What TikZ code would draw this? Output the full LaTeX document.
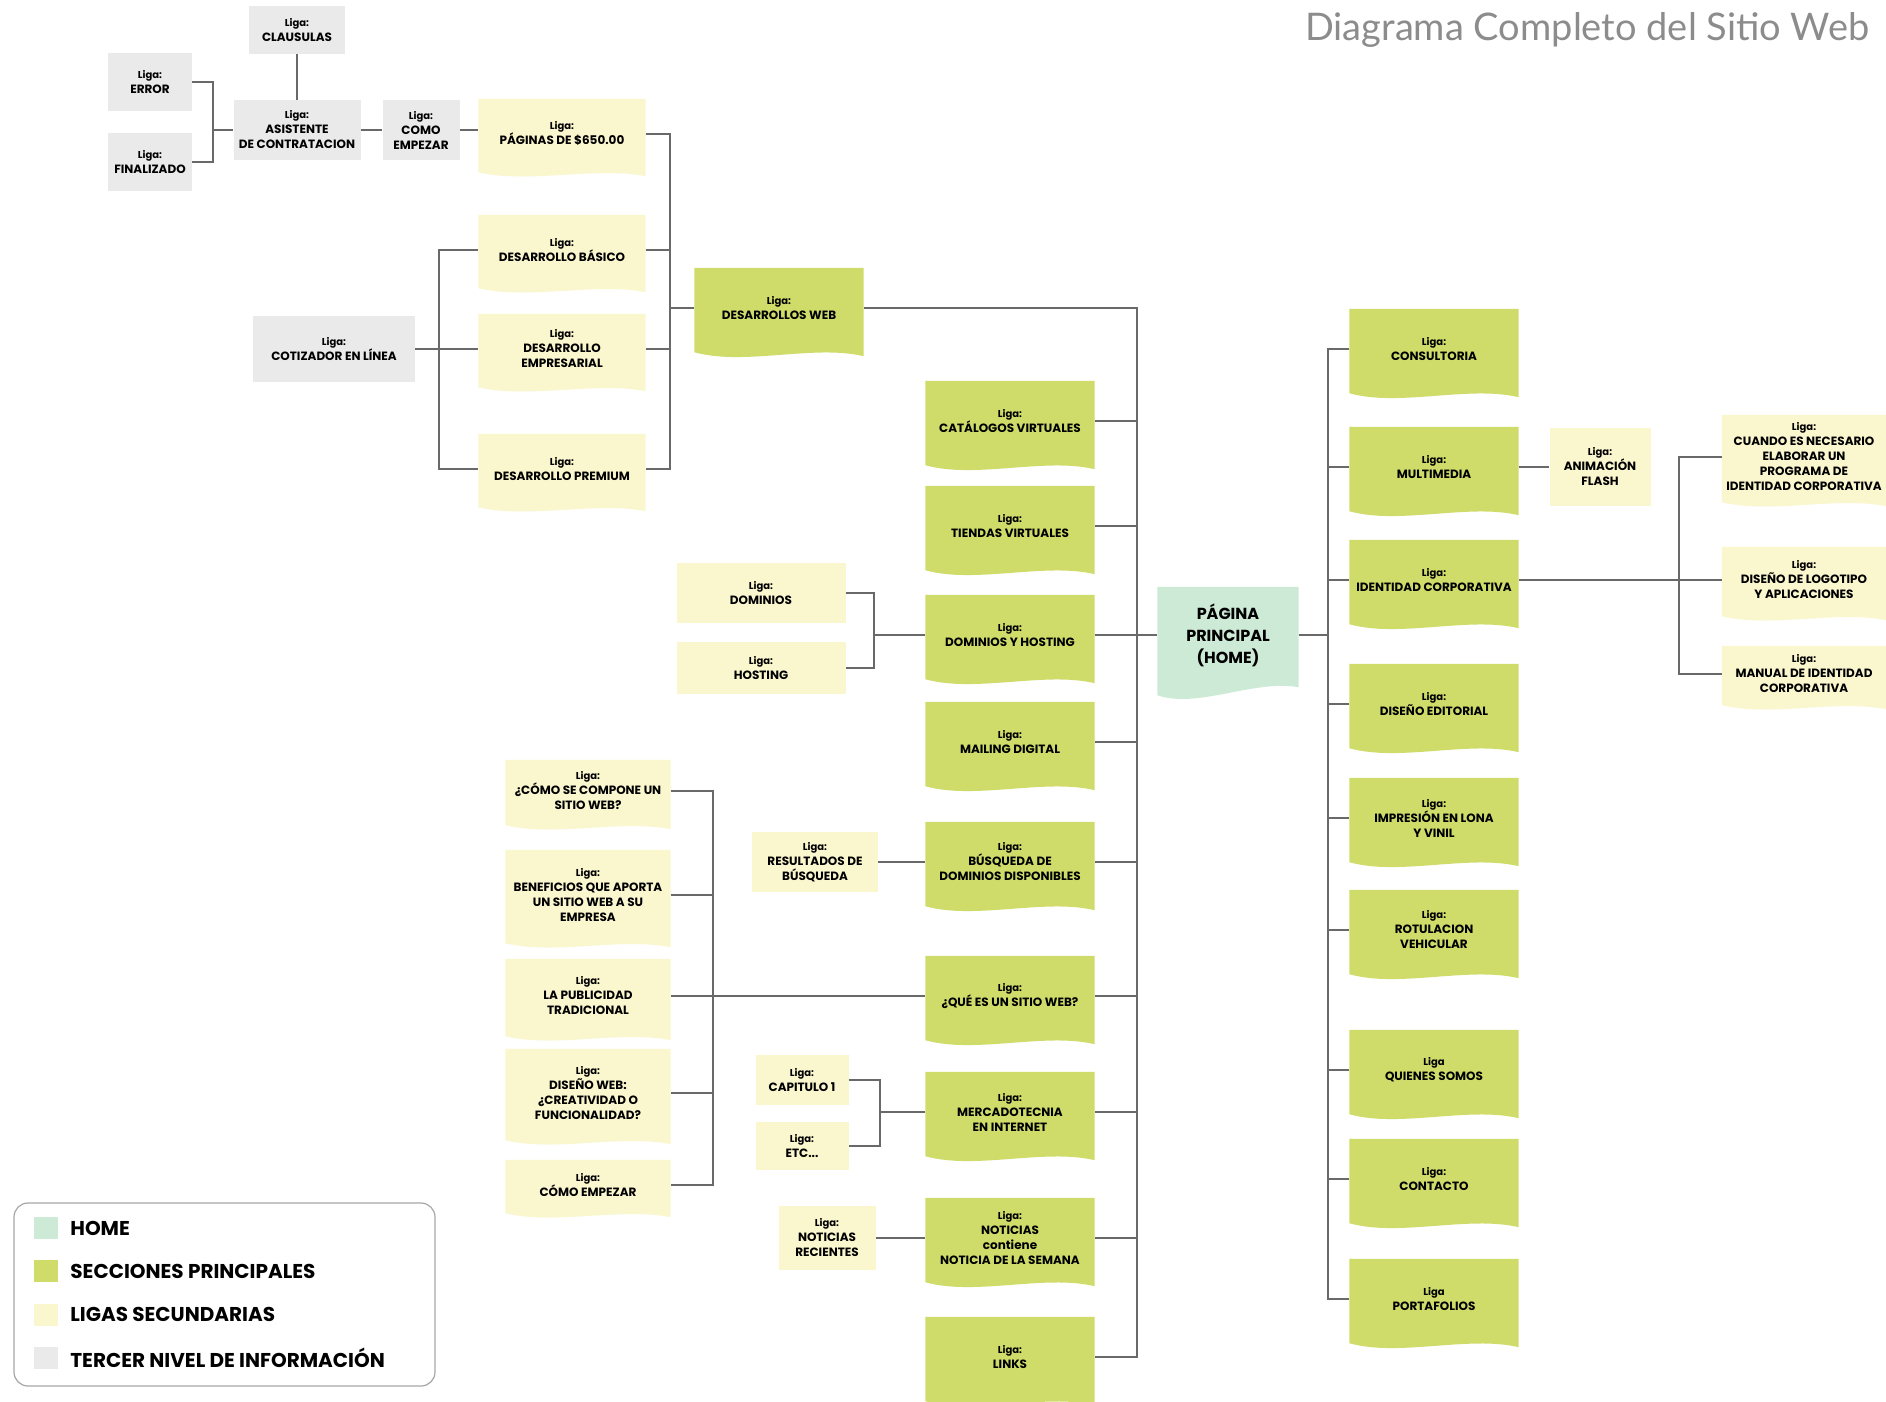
\documentclass[tikz,border=0pt]{standalone}
\usepackage{fontspec}
\setmainfont{Poppins}
\newfontfamily\titlefont{Lato}
\usetikzlibrary{positioning,backgrounds}

\definecolor{verde}{RGB}{207,220,106}
\definecolor{crema}{RGB}{250,246,206}
\definecolor{gris}{RGB}{234,234,234}
\definecolor{menta}{RGB}{204,234,214}
\definecolor{linea}{RGB}{105,105,105}
\definecolor{titulo}{RGB}{140,140,140}

\newcommand\ligatag[1][:]{{\fontsize{10}{13}\selectfont Liga#1}}
\newcommand\cajafont{\fontsize{12}{15}\selectfont\bfseries}

\begin{document}
\begin{tikzpicture}[x=1pt, y=-1pt,
    caja/.style = {align=center, font=\cajafont, inner sep=2pt},
    principal/.style = {caja, minimum width=169pt, minimum height=80pt},
    liga/.style = {caja, minimum width=167pt, minimum height=70pt},
    ligabox/.style = {caja, fill=crema},
    nivel/.style = {caja, fill=gris},
    con/.style = {draw=linea, line width=1.4pt},
    muestra/.style = {minimum width=24pt, minimum height=22pt, inner sep=0pt},
    leyenda/.style = {font=\fontsize{20}{22}\selectfont\bfseries, inner sep=0pt, anchor=west}]

    \useasboundingbox (0,0) rectangle (1886,1401);

    \node[anchor=west, inner sep=0pt, text=titulo, font=\titlefont\fontsize{38}{44}\selectfont] (titulo) at (1305,30) {Diagrama Completo del Sitio Web};

    % tercer nivel
    \node[nivel, minimum width=96pt, minimum height=48pt] (clausulas) at (297,30) {\ligatag\\CLAUSULAS};
    \node[nivel, minimum width=84pt, minimum height=58pt] (error) at (150,82) {\ligatag\\ERROR};
    \node[nivel, minimum width=84pt, minimum height=58pt] (finalizado) at (150,162) {\ligatag\\FINALIZADO};
    \node[nivel, minimum width=127pt, minimum height=60pt] (asistente) at (297,130) {\ligatag\\ASISTENTE\\DE CONTRATACION};
    \node[nivel, minimum width=77pt, minimum height=60pt] (comoemp) at (421,130) {\ligatag\\COMO\\EMPEZAR};
    \node[nivel, minimum width=162pt, minimum height=66pt] (cotizador) at (334,349) {\ligatag\\COTIZADOR EN LÍNEA};

    % ligas secundarias
    \node[liga] (paginas) at (562,134) {\ligatag\\PÁGINAS DE \$650.00};
    \node[liga] (basico) at (562,250) {\ligatag\\DESARROLLO BÁSICO};
    \node[liga] (empresarial) at (562,349) {\ligatag\\DESARROLLO\\EMPRESARIAL};
    \node[liga] (premium) at (562,469) {\ligatag\\DESARROLLO PREMIUM};

    \node[liga, minimum width=165pt, minimum height=62pt] (compone) at (588,791) {\ligatag\\¿CÓMO SE COMPONE UN\\SITIO WEB?};
    \node[liga, minimum width=165pt, minimum height=90pt] (beneficios) at (588,895) {\ligatag\\BENEFICIOS QUE APORTA\\UN SITIO WEB A SU\\EMPRESA};
    \node[liga, minimum width=165pt, minimum height=74pt] (publicidad) at (588,996) {\ligatag\\LA PUBLICIDAD\\TRADICIONAL};
    \node[liga, minimum width=165pt, minimum height=88pt] (disenoweb) at (588,1093) {\ligatag\\DISEÑO WEB:\\¿CREATIVIDAD O\\FUNCIONALIDAD?};
    \node[liga, minimum width=165pt, minimum height=50pt] (empezar) at (588,1185) {\ligatag\\CÓMO EMPEZAR};

    \node[liga, minimum width=164pt, minimum height=84pt] (cuando) at (1804,457) {\ligatag\\CUANDO ES NECESARIO\\ELABORAR UN\\PROGRAMA DE\\IDENTIDAD CORPORATIVA};
    \node[liga, minimum width=164pt, minimum height=66pt] (logotipo) at (1804,580) {\ligatag\\DISEÑO DE LOGOTIPO\\Y APLICACIONES};
    \node[liga, minimum width=164pt, minimum height=56pt] (manual) at (1804,674) {\ligatag\\MANUAL DE IDENTIDAD\\CORPORATIVA};

    \node[ligabox, minimum width=101pt, minimum height=78pt] (flash) at (1600,467) {\ligatag\\ANIMACIÓN\\FLASH};
    \node[ligabox, minimum width=169pt, minimum height=60pt] (dominios) at (761,593) {\ligatag\\DOMINIOS};
    \node[ligabox, minimum width=169pt, minimum height=52pt] (hosting) at (761,668) {\ligatag\\HOSTING};
    \node[ligabox, minimum width=126pt, minimum height=60pt] (resultados) at (815,862) {\ligatag\\RESULTADOS DE\\BÚSQUEDA};
    \node[ligabox, minimum width=93pt, minimum height=50pt] (capitulo) at (802,1080) {\ligatag\\CAPITULO 1};
    \node[ligabox, minimum width=93pt, minimum height=48pt] (etc) at (802,1146) {\ligatag\\ETC...};
    \node[ligabox, minimum width=97pt, minimum height=64pt] (recientes) at (827,1238) {\ligatag\\NOTICIAS\\RECIENTES};

    % secciones principales
    \node[principal] (dweb) at (779,308) {\ligatag\\DESARROLLOS WEB};
    \node[principal] (catalogos) at (1010,421) {\ligatag\\CATÁLOGOS VIRTUALES};
    \node[principal] (tiendas) at (1010,526) {\ligatag\\TIENDAS VIRTUALES};
    \node[principal] (dyh) at (1010,635) {\ligatag\\DOMINIOS Y HOSTING};
    \node[principal] (mailing) at (1010,742) {\ligatag\\MAILING DIGITAL};
    \node[principal] (busqueda) at (1010,862) {\ligatag\\BÚSQUEDA DE\\DOMINIOS DISPONIBLES};
    \node[principal] (quees) at (1010,996) {\ligatag\\¿QUÉ ES UN SITIO WEB?};
    \node[principal] (mercado) at (1010,1112) {\ligatag\\MERCADOTECNIA\\EN INTERNET};
    \node[principal] (noticias) at (1010,1238) {\ligatag\\NOTICIAS\\contiene\\NOTICIA DE LA SEMANA};
    \node[principal] (links) at (1010,1357) {\ligatag\\LINKS};

    \node[principal] (consultoria) at (1434,349) {\ligatag\\CONSULTORIA};
    \node[principal] (multimedia) at (1434,467) {\ligatag\\MULTIMEDIA};
    \node[principal] (identidad) at (1434,580) {\ligatag\\IDENTIDAD CORPORATIVA};
    \node[principal] (editorial) at (1434,704) {\ligatag\\DISEÑO EDITORIAL};
    \node[principal] (impresion) at (1434,818) {\ligatag\\IMPRESIÓN EN LONA\\Y VINIL};
    \node[principal] (rotulacion) at (1434,930) {\ligatag\\ROTULACION\\VEHICULAR};
    \node[principal] (quienes) at (1434,1070) {\ligatag[]\\QUIENES SOMOS};
    \node[principal] (contacto) at (1434,1179) {\ligatag\\CONTACTO};
    \node[principal] (portafolios) at (1434,1299) {\ligatag[]\\PORTAFOLIOS};

    \node[caja, minimum width=141pt, minimum height=96pt, font=\fontsize{16}{22}\selectfont\bfseries] (home) at (1228,635) {PÁGINA\\PRINCIPAL\\(HOME)};

    % fondos con onda
    \begin{scope}[on background layer]
        \fill[white] (0,0) rectangle (1886,1401);
        \foreach \n in {dweb,catalogos,tiendas,dyh,mailing,busqueda,quees,mercado,noticias,links,
                        consultoria,multimedia,identidad,editorial,impresion,rotulacion,quienes,contacto,portafolios}
            \fill[verde] (\n.north west) -- (\n.north east) -- ([yshift=-8pt]\n.south east)
                .. controls +(-50pt,12pt) and +(50pt,-14pt) .. ([yshift=-4pt]\n.south west) -- cycle;
        \foreach \n in {paginas,basico,empresarial,premium,compone,beneficios,publicidad,disenoweb,empezar,
                        cuando,logotipo,manual}
            \fill[crema] (\n.north west) -- (\n.north east) -- ([yshift=-7pt]\n.south east)
                .. controls +(-50pt,10pt) and +(50pt,-12pt) .. ([yshift=-3pt]\n.south west) -- cycle;
        \fill[menta] (home.north west) -- (home.north east) -- ([yshift=-4pt]home.south east)
            .. controls +(-45pt,8pt) and +(40pt,-14pt) .. ([yshift=-12pt]home.south west) -- cycle;
    \end{scope}

    % conexiones
    \coordinate (bfin) at (213,130);
    \coordinate (bcot) at (439,0);
    \coordinate (bdes) at (670,0);
    \coordinate (bizq) at (713,0);
    \coordinate (bdom) at (874,0);
    \coordinate (bcap) at (880,0);
    \coordinate (bmed) at (1137,0);
    \coordinate (bder) at (1328,0);
    \coordinate (bidn) at (1679,0);

    \draw[con] (clausulas) -- (asistente);
    \draw[con] (error.east) -| (bfin) |- (finalizado.east);
    \draw[con] (bfin) -- (asistente.west);
    \draw[con] (asistente) -- (comoemp);
    \draw[con] (comoemp.east) -- (comoemp.east -| paginas.west);

    \draw[con] (paginas.east) -| (bdes |- premium.east) -- (premium.east);
    \draw[con] (basico.east) -- (basico.east -| bdes);
    \draw[con] (empresarial.east) -- (empresarial.east -| bdes);
    \draw[con] (dweb.west) -- (dweb.west -| bdes);

    \draw[con] (basico.west) -| (bcot |- premium.west) -- (premium.west);
    \draw[con] (cotizador.east) -- (empresarial.west);

    \draw[con] (dweb.east) -| (bmed |- links.east) -- (links.east);
    \foreach \n in {catalogos,tiendas,dyh,mailing,busqueda,quees,mercado,noticias}
        \draw[con] (\n.east) -- (\n.east -| bmed);
    \draw[con] (home.west) -- (home.west -| bmed);

    \draw[con] (consultoria.west) -| (bder |- portafolios.west) -- (portafolios.west);
    \foreach \n in {multimedia,identidad,editorial,impresion,rotulacion,quienes,contacto}
        \draw[con] (\n.west) -- (\n.west -| bder);
    \draw[con] (home.east) -- (home.east -| bder);

    \draw[con] (multimedia.east) -- (flash.west);
    \draw[con] (cuando.west) -| (bidn |- manual.west) -- (manual.west);
    \draw[con] (identidad.east) -- (logotipo.west);

    \draw[con] (dominios.east) -| (bdom |- hosting.east) -- (hosting.east);
    \draw[con] (dyh.west) -- (dyh.west -| bdom);
    \draw[con] (resultados) -- (busqueda);
    \draw[con] (capitulo.east) -| (bcap |- etc.east) -- (etc.east);
    \draw[con] (mercado.west) -- (mercado.west -| bcap);
    \draw[con] (recientes) -- (noticias);

    \draw[con] (compone.east) -| (bizq |- empezar.east) -- (empezar.east);
    \draw[con] (beneficios.east) -- (beneficios.east -| bizq);
    \draw[con] (disenoweb.east) -- (disenoweb.east -| bizq);
    \draw[con] (publicidad) -- (quees);

    % leyenda
    \draw[draw=gray!70, line width=1.2pt, rounded corners=14pt] (14,1203) rectangle (435,1386);
    \node[muestra, fill=menta] (mhome) at (46,1228) {};
    \node[muestra, fill=verde, below=21pt of mhome] (mseccion) {};
    \node[muestra, fill=crema, below=21pt of mseccion] (mliga) {};
    \node[muestra, fill=gris, below=21pt of mliga] (mnivel) {};
    \node[leyenda, right=12pt of mhome] (thome) {HOME};
    \node[leyenda, right=12pt of mseccion] (tseccion) {SECCIONES PRINCIPALES};
    \node[leyenda, right=12pt of mliga] (tliga) {LIGAS SECUNDARIAS};
    \node[leyenda, right=12pt of mnivel] (tnivel) {TERCER NIVEL DE INFORMACIÓN};

\end{tikzpicture}
\end{document}
